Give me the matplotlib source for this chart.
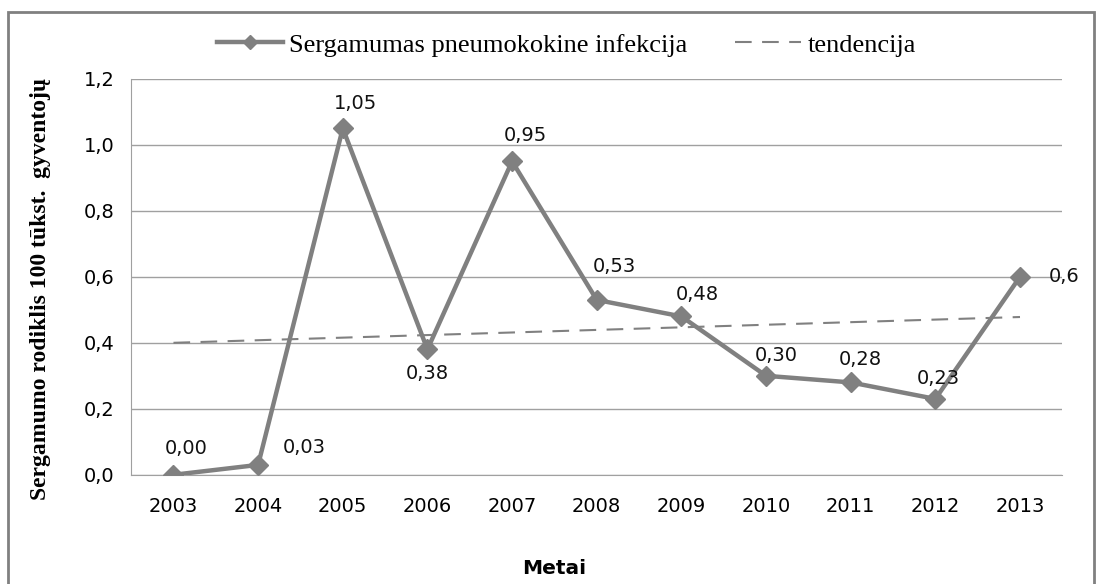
import numpy as np
import matplotlib
matplotlib.use('Agg')
import matplotlib.pyplot as plt
from matplotlib.patches import Rectangle

# duomenys
metai = ['2003', '2004', '2005', '2006', '2007', '2008', '2009', '2010', '2011', '2012', '2013']
sergamumas = [0.00, 0.03, 1.05, 0.38, 0.95, 0.53, 0.48, 0.30, 0.28, 0.23, 0.60]
etiketes = ['0,00', '0,03', '1,05', '0,38', '0,95', '0,53', '0,48', '0,30', '0,28', '0,23', '0,6']
y_ticks = [0.0, 0.2, 0.4, 0.6, 0.8, 1.0, 1.2]
y_tick_labels = ['0,0', '0,2', '0,4', '0,6', '0,8', '1,0', '1,2']
# etikečių poslinkiai (px)
poslinkiai = [(13, 26), (46, 17), (13, 25), (0, -24), (13, 26), (18, 33),
              (16, 22), (10, 20), (10, 23), (3, 20), (44, 0)]

pilka = '#808080'
x = np.arange(len(metai))

fig = plt.figure(figsize=(11.02, 5.84), dpi=100)
ax = fig.add_axes([0.119, 0.187, 0.845, 0.678])

# tendencija (tiesinė)
k, b = np.polyfit(x, sergamumas, 1)
ax.plot(x, k * x + b, color=pilka, linewidth=1.5, dashes=(8, 5), label='tendencija', zorder=2)
ax.plot(x, sergamumas, color=pilka, linewidth=3.2, marker='D', markersize=10,
        label='Sergamumas pneumokokine infekcija', zorder=3)

for xi, yi, t, (dx, dy) in zip(x, sergamumas, etiketes, poslinkiai):
    ax.annotate(t, (xi, yi), xytext=(dx * 0.72, dy * 0.72), textcoords='offset points',
                ha='center', va='center', fontsize=14, color='#111111')

ax.set_xlim(-0.5, len(metai) - 0.5)
ax.set_ylim(0, 1.2)
ax.set_xticks(x)
ax.set_xticklabels(metai, fontsize=14)
ax.set_yticks(y_ticks)
ax.set_yticklabels(y_tick_labels, fontsize=14)
ax.tick_params(length=0, pad=12)
ax.tick_params(axis='x', pad=16)
ax.grid(axis='y', color='#a0a0a0', linewidth=1)
ax.set_axisbelow(True)
for s in ['top', 'right']:
    ax.spines[s].set_visible(False)
for s in ['left', 'bottom']:
    ax.spines[s].set_color('#a0a0a0')

fig.text(0.503, 1 - 568 / 584, 'Metai', fontsize=14.5, fontweight='bold', ha='center', va='center')
fig.text(0.037, 0.505, 'Sergamumo rodiklis 100 tūkst.  gyventojų', rotation=90,
         family='Liberation Serif', fontweight='bold', fontsize=17, ha='center', va='center')

h, l = ax.get_legend_handles_labels()
fig.legend(h[::-1], l[::-1], loc='center', bbox_to_anchor=(0.514, 0.923), ncol=2, frameon=False,
           prop={'family': 'Liberation Serif', 'size': 19}, handlelength=2.5,
           handletextpad=0.25, columnspacing=1.8, markerscale=0.7)

fig.patches.append(Rectangle((0.007, -0.1), 0.986, 1.079, transform=fig.transFigure,
                             fill=False, edgecolor=pilka, linewidth=2))

fig.savefig('out.png', dpi=100)
